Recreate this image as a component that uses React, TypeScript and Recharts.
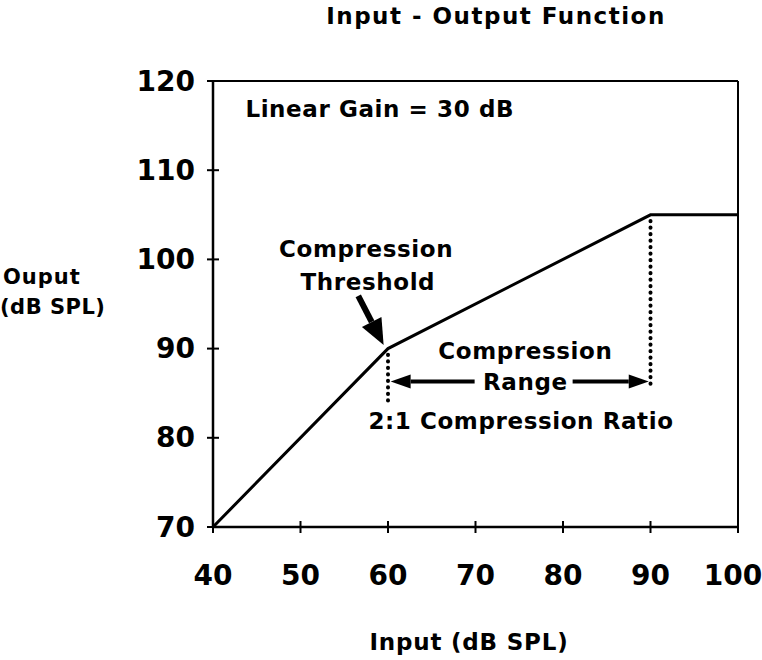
import { LineChart, Line, XAxis, YAxis, ReferenceLine, ReferenceDot } from 'recharts';

// input-output curve of the compressor
const inputLevels = [40, 60, 90, 100];
const outputLevels = [70, 90, 105, 105];

const xTicks = [40, 50, 60, 70, 80, 90, 100];
const yTicks = [70, 80, 90, 100, 110, 120];

// dotted drops under the two knees
const kneeInputs = [60, 90];
const kneeOutputs = [90, 105];
const dropEnds = [83.5, 86];

// arrows
const rangeLevel = 86.3;
const rangeTails = [69.9, 81.1];
const rangeTips = [60.3, 89.8];
const thresholdFrom = [56.6, 95.9];
const thresholdTo = [59.5, 90.4];

// annotation texts (data coords)
const noteTexts = ['Linear Gain = 30 dB', 'Compression', 'Threshold', 'Compression', 'Range', '2:1 Compression Ratio'];
const noteXs = [43.7, 57.5, 57.7, 75.7, 75.7, 75.2];
const noteYs = [116.9, 101.2, 97.5, 89.7, 86.3, 81.9];
const noteAnchors = ['start', 'middle', 'middle', 'middle', 'middle', 'middle'];

const data = inputLevels.map((x, i) => ({ input: x, output: outputLevels[i] }));

const FONT = '"DejaVu Sans", sans-serif';

function XTick(props: any) {
  const { x, y, payload } = props;
  // keep the last label inside the page
  const tx = Math.min(x, 733);
  return (
    <g>
      <line x1={x} x2={x} y1={y - 6} y2={y + 6} stroke="#000" strokeWidth={2} />
      <text x={tx} y={y + 48} textAnchor="middle" dominantBaseline="central" fontFamily={FONT} fontWeight="bold" fontSize={28} fill="#000">
        {payload.value}
      </text>
    </g>
  );
}

function YTick(props: any) {
  const { x, y, payload } = props;
  return (
    <g>
      <line x1={x - 6} x2={x + 6} y1={y} y2={y} stroke="#000" strokeWidth={2} />
      <text x={x - 18} y={y} textAnchor="end" dominantBaseline="central" fontFamily={FONT} fontWeight="bold" fontSize={28} fill="#000">
        {payload.value}
      </text>
    </g>
  );
}

function arrowShape(headLen: number, headW: number, shaftW: number) {
  return (p: any) => {
    const { x1, y1, x2, y2 } = p;
    const dx = x2 - x1;
    const dy = y2 - y1;
    const len = Math.sqrt(dx * dx + dy * dy) || 1;
    const ux = dx / len;
    const uy = dy / len;
    const bx = x2 - ux * headLen;
    const by = y2 - uy * headLen;
    const nx = -uy * headW / 2;
    const ny = ux * headW / 2;
    return (
      <g>
        <line x1={x1} y1={y1} x2={bx} y2={by} stroke="#000" strokeWidth={shaftW} />
        <polygon points={`${x2},${y2} ${bx + nx},${by + ny} ${bx - nx},${by - ny}`} fill="#000" />
      </g>
    );
  };
}

function dotted(p: any) {
  return (
    <line x1={p.x1} y1={p.y1} x2={p.x2} y2={p.y2} stroke="#000" strokeWidth={4} strokeLinecap="round" strokeDasharray="0.1 6.4" />
  );
}

function noteShape(text: string, anchor: string) {
  return (p: any) => (
    <text x={p.cx} y={p.cy} textAnchor={anchor as any} dominantBaseline="central" fontFamily={FONT} fontWeight="bold" fontSize={23} letterSpacing={0.6} fill="#000">
      {text}
    </text>
  );
}

export default function App() {
  return (
    <div style={{ position: 'absolute', left: 0, top: 0, width: 762, height: 660, background: '#fff' }}>
      <LineChart width={762} height={660} data={data} margin={{ top: 81, right: 24, left: 0, bottom: 0 }}>
        <XAxis
          dataKey="input"
          type="number"
          domain={[40, 100]}
          ticks={xTicks}
          height={133}
          tickSize={0}
          tickMargin={0}
          tickLine={false}
          axisLine={{ stroke: '#000', strokeWidth: 2.5 }}
          tick={<XTick />}
        />
        <YAxis
          type="number"
          domain={[70, 120]}
          ticks={yTicks}
          width={213}
          tickSize={0}
          tickMargin={0}
          tickLine={false}
          axisLine={{ stroke: '#000', strokeWidth: 2.5 }}
          tick={<YTick />}
        />
        <ReferenceLine y={120} stroke="#000" strokeWidth={2} />
        <ReferenceLine x={100} stroke="#000" strokeWidth={2} />
        {kneeInputs.map((k, i) => (
          <ReferenceLine
            key={`drop-${i}`}
            segment={[{ x: k, y: kneeOutputs[i] - 0.7 }, { x: k, y: dropEnds[i] }]}
            shape={dotted}
          />
        ))}
        <Line type="linear" dataKey="output" stroke="#000" strokeWidth={3} dot={false} isAnimationActive={false} />
        {rangeTails.map((t, i) => (
          <ReferenceLine
            key={`range-${i}`}
            segment={[{ x: t, y: rangeLevel }, { x: rangeTips[i], y: rangeLevel }]}
            shape={arrowShape(20, 14, 4)}
          />
        ))}
        <ReferenceLine
          segment={[{ x: thresholdFrom[0], y: thresholdFrom[1] }, { x: thresholdTo[0], y: thresholdTo[1] }]}
          shape={arrowShape(26, 22, 6)}
        />
        {noteTexts.map((t, i) => (
          <ReferenceDot key={`note-${i}`} x={noteXs[i]} y={noteYs[i]} r={0} shape={noteShape(t, noteAnchors[i])} />
        ))}
        <text x={496} y={24} textAnchor="middle" fontFamily={FONT} fontWeight="bold" fontSize={23} letterSpacing={1.5} fill="#000">
          Input - Output Function
        </text>
        <text x={3} y={284} fontFamily={FONT} fontWeight="bold" fontSize={21} letterSpacing={1} fill="#000">
          Ouput
        </text>
        <text x={0} y={314} fontFamily={FONT} fontWeight="bold" fontSize={21} letterSpacing={0.5} fill="#000">
          (dB SPL)
        </text>
        <text x={469} y={650} textAnchor="middle" fontFamily={FONT} fontWeight="bold" fontSize={23} letterSpacing={0.8} fill="#000">
          Input (dB SPL)
        </text>
      </LineChart>
    </div>
  );
}
